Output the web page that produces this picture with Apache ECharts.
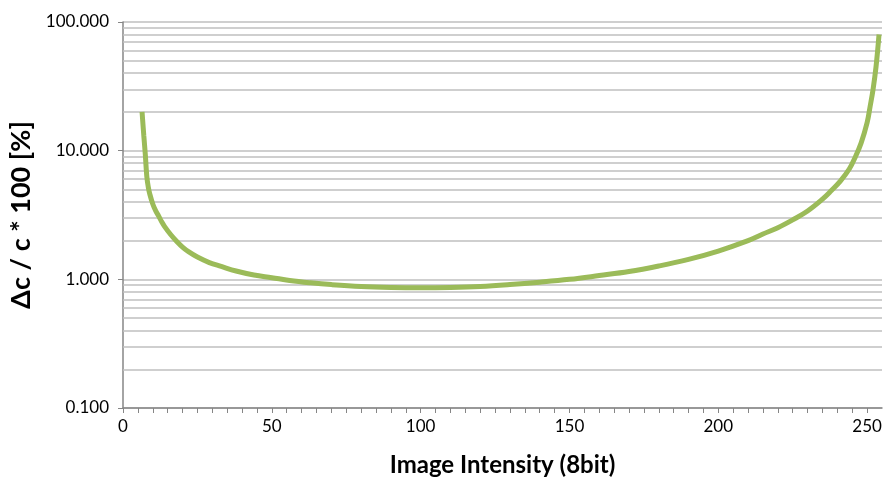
<!DOCTYPE html>
<html>
<head>
<meta charset="utf-8">
<script src="https://cdn.jsdelivr.net/npm/echarts@6/dist/echarts.min.js"></script>
<style>
  html, body { margin: 0; padding: 0; background: #fff; }
  #chart { width: 884px; height: 477px; }
</style>
</head>
<body>
<div id="chart"></div>
<script>
// intensity values (8bit) and relative error
const intensity = [6.4, 7, 7.5, 8, 8.5, 9, 10, 11, 12, 13, 14, 16, 18, 20, 22, 25, 29, 33, 38, 44, 50, 56, 63, 70, 80, 90, 100, 110, 120, 130, 140, 150, 160, 170, 180, 190, 200, 210, 215, 220, 225, 230, 235, 238, 241, 244, 246, 248, 250, 251, 252, 253, 254];
const relError = [20, 13, 9.3, 6.3, 5.2, 4.6, 3.85, 3.4, 3.1, 2.8, 2.57, 2.23, 1.98, 1.78, 1.64, 1.49, 1.35, 1.26, 1.16, 1.08, 1.03, 0.98, 0.94, 0.91, 0.88, 0.865, 0.86, 0.865, 0.88, 0.91, 0.95, 1.0, 1.07, 1.15, 1.27, 1.43, 1.66, 2.0, 2.25, 2.52, 2.9, 3.4, 4.2, 4.9, 5.8, 7.2, 8.9, 11.5, 16.5, 22, 30, 45, 80];

// minor log gridlines (2..9 in each decade)
const minorGrid = [];
[0.1, 1, 10].forEach(d => { for (let k = 2; k <= 9; k++) minorGrid.push(+(d * k).toFixed(3)); });

const chart = echarts.init(document.getElementById('chart'));
const font = 'Lato, "Open Sans", sans-serif';

const option = {
  animation: false,
  grid: { left: 123, right: 2, top: 22, bottom: 69, containLabel: false, outerBoundsMode: 'none' },
  xAxis: {
    type: 'value',
    min: 0,
    max: 255,
    interval: 5,
    name: 'Image Intensity (8bit)',
    nameLocation: 'middle',
    nameGap: 45,
    nameTextStyle: { fontFamily: font, fontWeight: 'bold', fontSize: 24, color: '#000' },
    axisLine: { show: true, lineStyle: { color: '#868686', width: 1.5 } },
    axisTick: { show: true, length: 5, lineStyle: { color: '#868686' } },
    splitLine: { show: false },
    axisLabel: {
      fontFamily: font, fontSize: 17, color: '#000', margin: 10,
      showMaxLabel: false,
      formatter: v => (v % 50 === 0 ? String(v) : '')
    }
  },
  yAxis: {
    type: 'log',
    logBase: 10,
    min: 0.1,
    max: 100,
    name: 'Δc / c * 100 [%]',
    nameLocation: 'middle',
    nameGap: 84,
    nameTextStyle: { fontFamily: font, fontWeight: 'bold', fontSize: 27, color: '#000' },
    axisLine: { show: true, lineStyle: { color: '#868686', width: 1.5 } },
    axisTick: { show: true, length: 5, lineStyle: { color: '#868686' } },
    splitLine: { show: true, lineStyle: { color: '#bfbfbf', width: 1.5 } },
    axisLabel: {
      fontFamily: font, fontSize: 17, color: '#000', margin: 14,
      formatter: v => v.toFixed(3)
    }
  },
  series: [{
    type: 'line',
    data: intensity.map((x, i) => [x, relError[i]]),
    smooth: 0.4,
    showSymbol: false,
    lineStyle: { color: '#9bbb59', width: 5 },
    markLine: {
      silent: true,
      symbol: 'none',
      label: { show: false },
      lineStyle: { color: '#bfbfbf', width: 1.5, type: 'solid' },
      data: minorGrid.map(v => ({ yAxis: v }))
    },
    z: 5
  }]
};

chart.setOption(option);
</script>
</body>
</html>
